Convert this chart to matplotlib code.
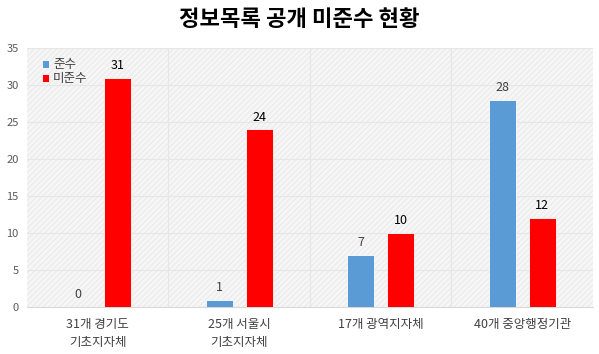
import matplotlib
matplotlib.use('Agg')
from matplotlib import pyplot as plt
from matplotlib.patches import Rectangle
import numpy as np

plt.rcParams['font.family'] = ['Noto Sans CJK KR', 'DejaVu Sans']

categories = ['31개 경기도\n기초지자체', '25개 서울시\n기초지자체', '17개 광역지자체', '40개 중앙행정기관']
comply = [0, 1, 7, 28]
noncomply = [31, 24, 10, 12]
series_names = ['준수', '미준수']
yticks = [0, 5, 10, 15, 20, 25, 30, 35]

blue = '#5B9BD5'
red = '#FF0000'

fig = plt.figure(figsize=(5.99, 3.54), dpi=100)
ax = fig.add_axes([0.045, 0.133, 0.945, 0.731])

x = np.arange(len(categories))
w = 0.19
off = 0.142

# hatched plot background, kept faint
ax.set_facecolor('#f6f6f6')
ax.add_patch(Rectangle((0, 0), 1, 1, transform=ax.transAxes, facecolor='none',
                       edgecolor='#ececec', hatch='//////', linewidth=0, zorder=0))

ax.bar(x - off, comply, w, color=blue, edgecolor='white', linewidth=0.6, zorder=3, label=series_names[0])
ax.bar(x + off, noncomply, w, color=red, edgecolor='white', linewidth=0.6, zorder=3, label=series_names[1])

for xi, v in zip(x - off, comply):
    ax.text(xi, v + 0.8, str(v), ha='center', va='bottom', fontsize=9, color='#404040', zorder=4)
for xi, v in zip(x + off, noncomply):
    ax.text(xi, v + 0.8, str(v), ha='center', va='bottom', fontsize=9, color='black', zorder=4)

ax.set_xlim(-0.5, len(categories) - 0.5)
ax.set_ylim(0, 35)
ax.set_yticks(yticks)
ax.set_xticks(x)
ax.set_xticklabels(categories, fontsize=9, color='#404040', linespacing=1.5)
ax.tick_params(axis='y', labelsize=8, colors='#595959', length=0, pad=6)
ax.tick_params(axis='x', length=0, pad=8)

for yv in yticks:
    ax.axhline(yv, color='#e6e6e6', linewidth=0.8, zorder=1)
for xv in np.arange(0.5, len(categories) - 0.5, 1):
    ax.axvline(xv, color='#e6e6e6', linewidth=0.8, zorder=1)

for s in ax.spines.values():
    s.set_visible(False)
ax.spines['bottom'].set_visible(True)
ax.spines['bottom'].set_color('#d9d9d9')

leg = ax.legend(loc='upper left', bbox_to_anchor=(0.012, 0.995), frameon=False, fontsize=9,
                handlelength=0.55, handleheight=0.55, handletextpad=0.3, labelspacing=0.1,
                borderpad=0.2)
for t in leg.get_texts():
    t.set_color('#404040')

fig.text(0.5, 0.945, '정보목록 공개 미준수 현황', ha='center', va='center',
         fontsize=16, fontweight='bold', color='black')

plt.savefig('out.png', dpi=100)
